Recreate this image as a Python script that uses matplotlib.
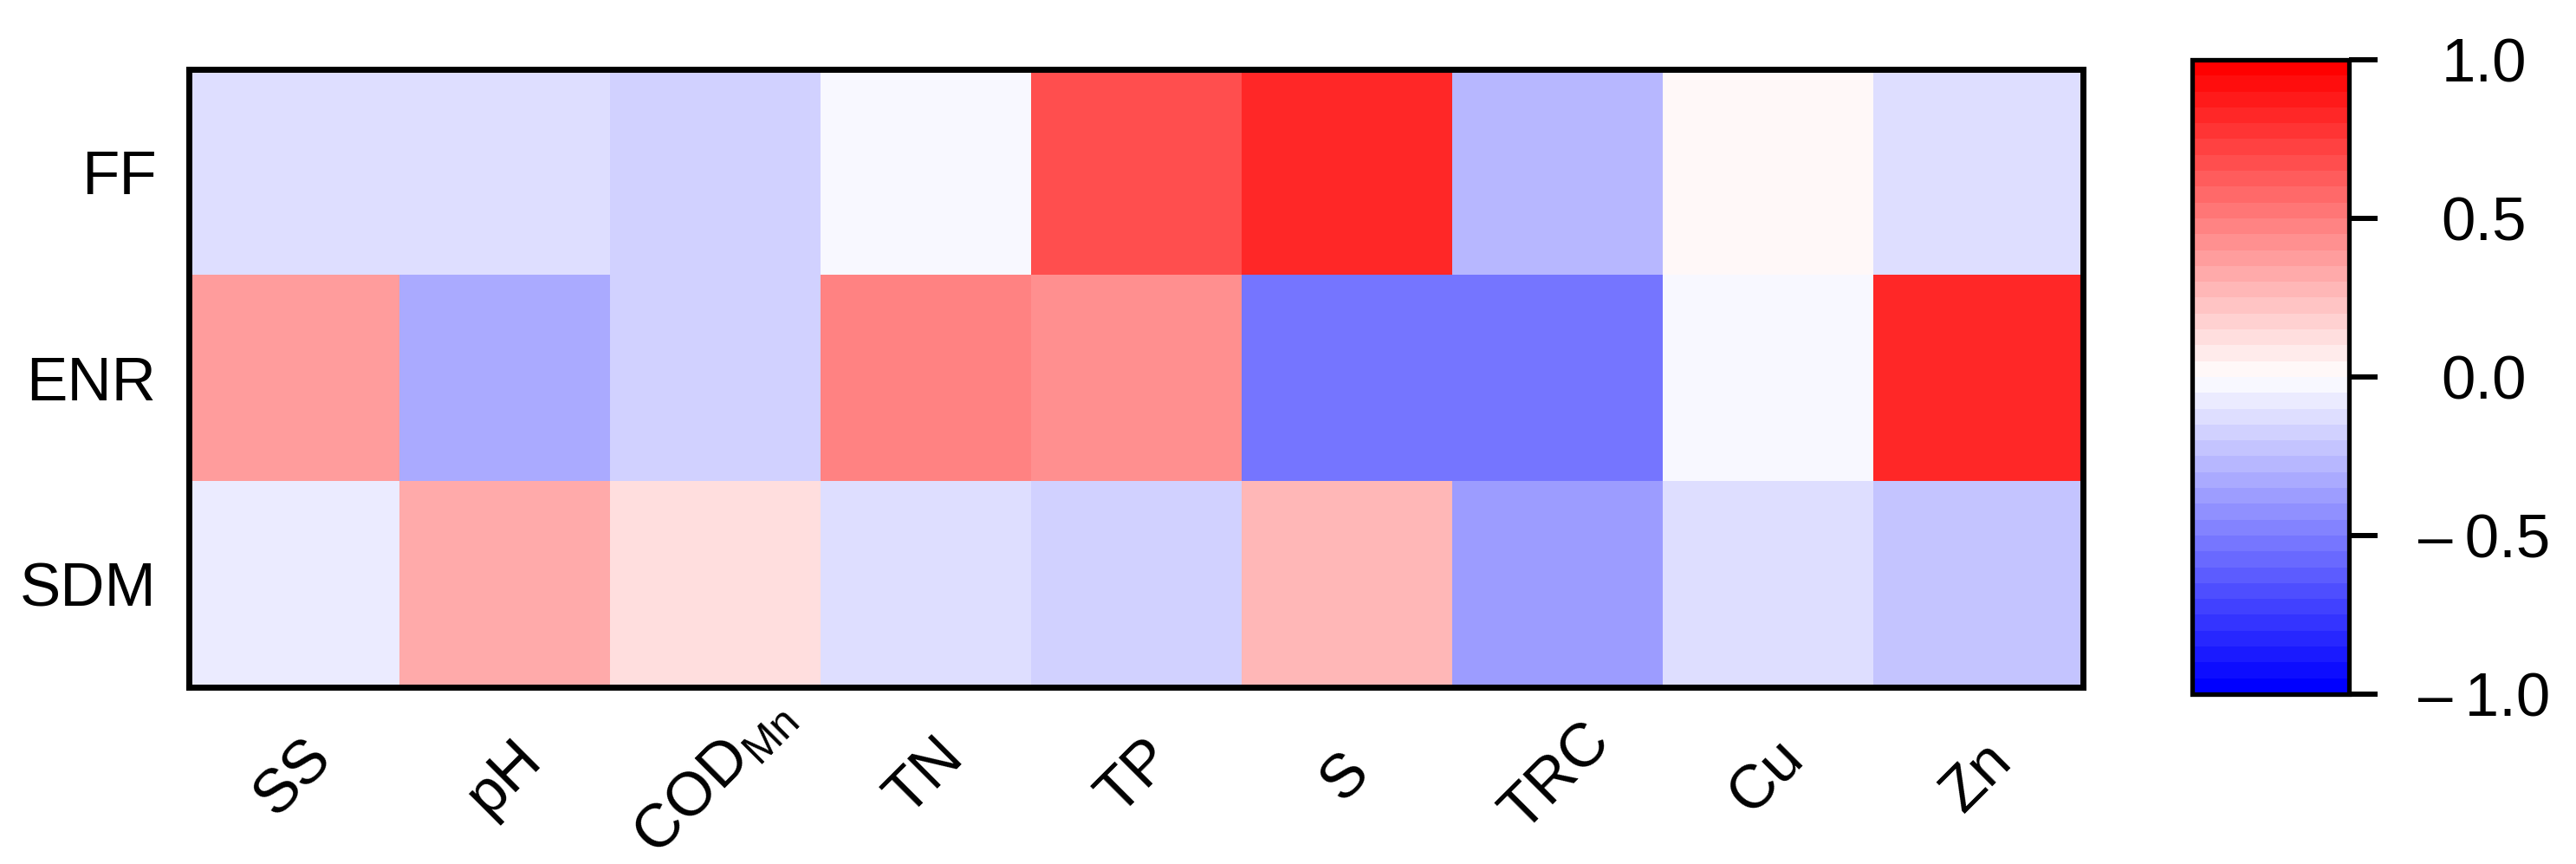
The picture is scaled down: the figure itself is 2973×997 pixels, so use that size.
import numpy as np
import matplotlib
matplotlib.use("Agg")
import matplotlib.pyplot as plt
from matplotlib.ticker import FixedLocator, FixedFormatter

plt.rcParams['font.family'] = ['Liberation Sans', 'DejaVu Sans']
plt.rcParams['mathtext.fontset'] = 'custom'
plt.rcParams['mathtext.rm'] = 'Liberation Sans'
plt.rcParams['mathtext.it'] = 'Liberation Sans:italic'

# Datos
rows = ['FF', 'ENR', 'SDM']
cols = ['SS', 'pH', r'COD$_{\mathrm{Mn}}$', 'TN', 'TP', 'S', 'TRC', 'Cu', 'Zn']
ff = [-0.13, -0.13, -0.19, -0.035, 0.65, 0.82, -0.28, 0.04, -0.15]
enr = [0.39, -0.31, -0.19, 0.47, 0.44, -0.53, -0.53, -0.035, 0.82]
sdm = [-0.10, 0.33, 0.10, -0.15, -0.19, 0.26, -0.38, -0.15, -0.25]
cbar_ticks = [1.0, 0.5, 0.0, -0.5, -1.0]
cbar_labels = ['1.0', '0.5', '0.0', '\u2013\u20090.5', '\u2013\u20091.0']

data = np.array([ff, enr, sdm])

cmap = plt.get_cmap('bwr').resampled(40)

fig = plt.figure(figsize=(29.73, 9.97), dpi=100)
ax = fig.add_axes([0.0733, 0.2046, 0.7353, 0.7152])
cax = fig.add_axes([0.851, 0.1966, 0.061, 0.7342])

im = ax.imshow(data, cmap=cmap, vmin=-1, vmax=1, aspect='auto',
               interpolation='nearest')

ax.set_xticks(np.arange(len(cols)))
ax.set_xticklabels(cols, rotation=45, ha='center', va='center',
                   fontsize=51)
ax.set_yticks(np.arange(len(rows)))
ax.set_yticklabels(rows, fontsize=51)
ax.tick_params(axis='y', length=0, pad=27)
ax.tick_params(axis='x', length=0, pad=75)
for s in ax.spines.values():
    s.set_linewidth(5)

cb = fig.colorbar(im, cax=cax)
cb.outline.set_linewidth(3.8)
cax.yaxis.set_major_locator(FixedLocator(cbar_ticks))
cax.yaxis.set_major_formatter(FixedFormatter(cbar_labels))
cax.tick_params(length=24, width=4.3, labelsize=51, pad=88)
for t in cax.get_yticklabels():
    t.set_horizontalalignment('center')

fig.savefig('out.png', dpi=100)
